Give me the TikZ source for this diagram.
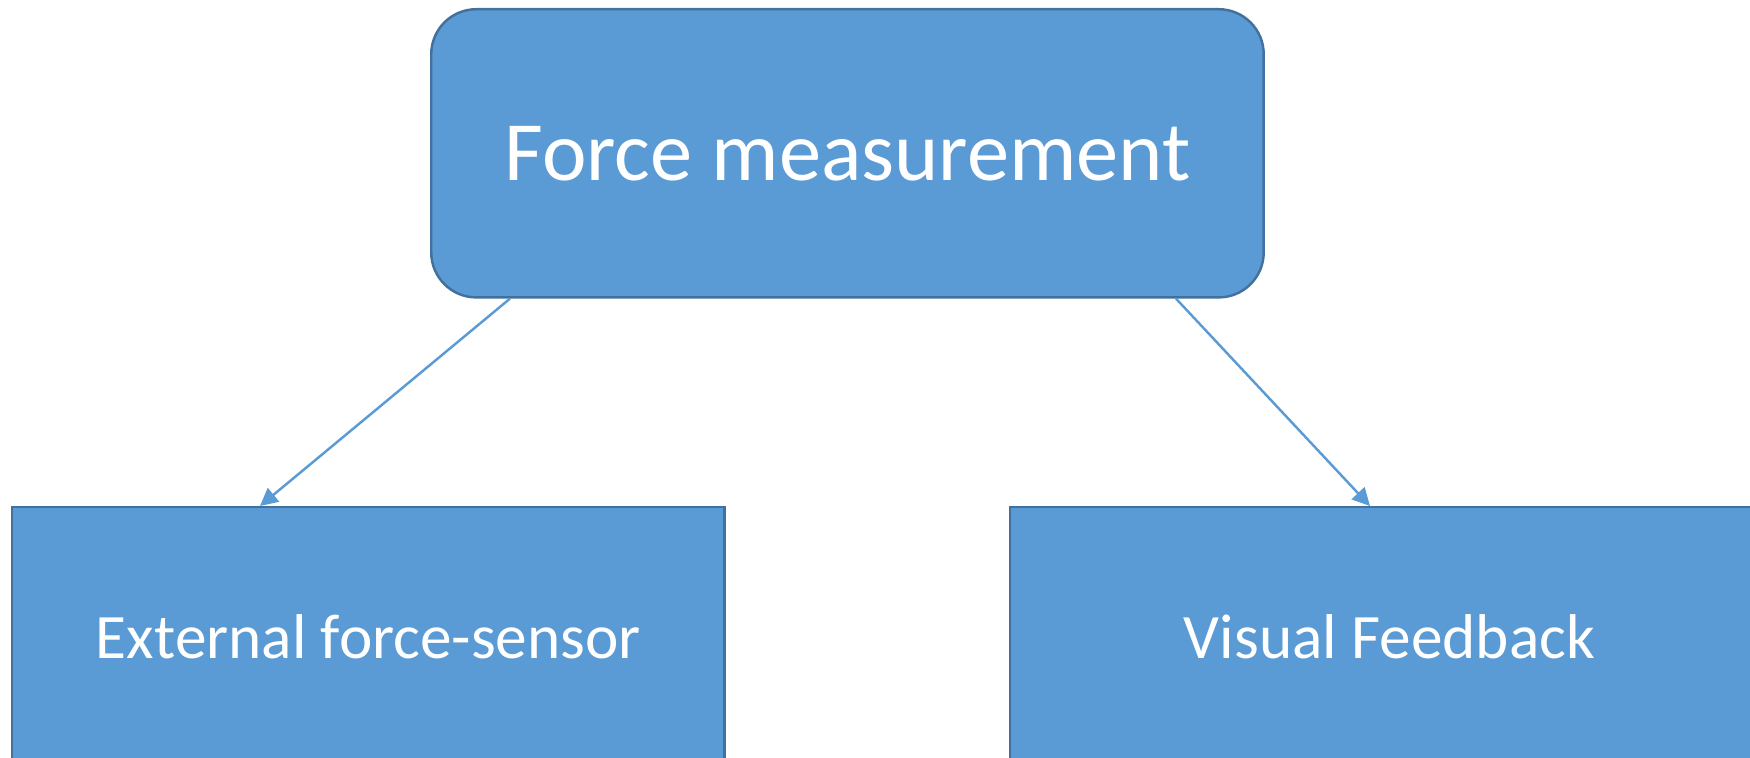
\documentclass[tikz,border=0pt]{standalone}
\usepackage{fontspec}
\setmainfont{Carlito}
\usetikzlibrary{arrows.meta,calc}

\definecolor{boxblue}{HTML}{5B9BD5}
\definecolor{boxedge}{HTML}{41719C}

\tikzset{
    block/.style={draw=boxedge, fill=boxblue, text=white, line width=0.7pt, anchor=north west, inner sep=0pt},
    link/.style={draw=boxblue, line width=0.7pt, -{Triangle[length=5pt,width=5pt]}}
}

\begin{document}
\begin{tikzpicture}[x=0.01cm, y=-0.01cm]
    \useasboundingbox (0, 0) rectangle (1750, 758);
    \clip (0, 0) rectangle (1750, 758);

    \node[block, rounded corners=0.45cm, minimum width=8.32cm, minimum height=2.88cm,
          font=\fontsize{24}{29}\selectfont] (force) at (430, 8) {Force measurement};
    \node[block, minimum width=7.12cm, minimum height=2.58cm,
          font=\fontsize{18}{22}\selectfont] (sensor) at (11, 506) {External force-sensor};
    \node[block, minimum width=7.58cm, minimum height=2.58cm,
          font=\fontsize{18}{22}\selectfont] (visual) at (1009, 506) {Visual Feedback};

    \draw[link] ($(force.south west)+(80, 0)$) -- ($(sensor.north west)+(249, 0)$);
    \draw[link] ($(force.south west)+(746, 0)$) -- ($(visual.north west)+(361, 0)$);
\end{tikzpicture}
\end{document}
